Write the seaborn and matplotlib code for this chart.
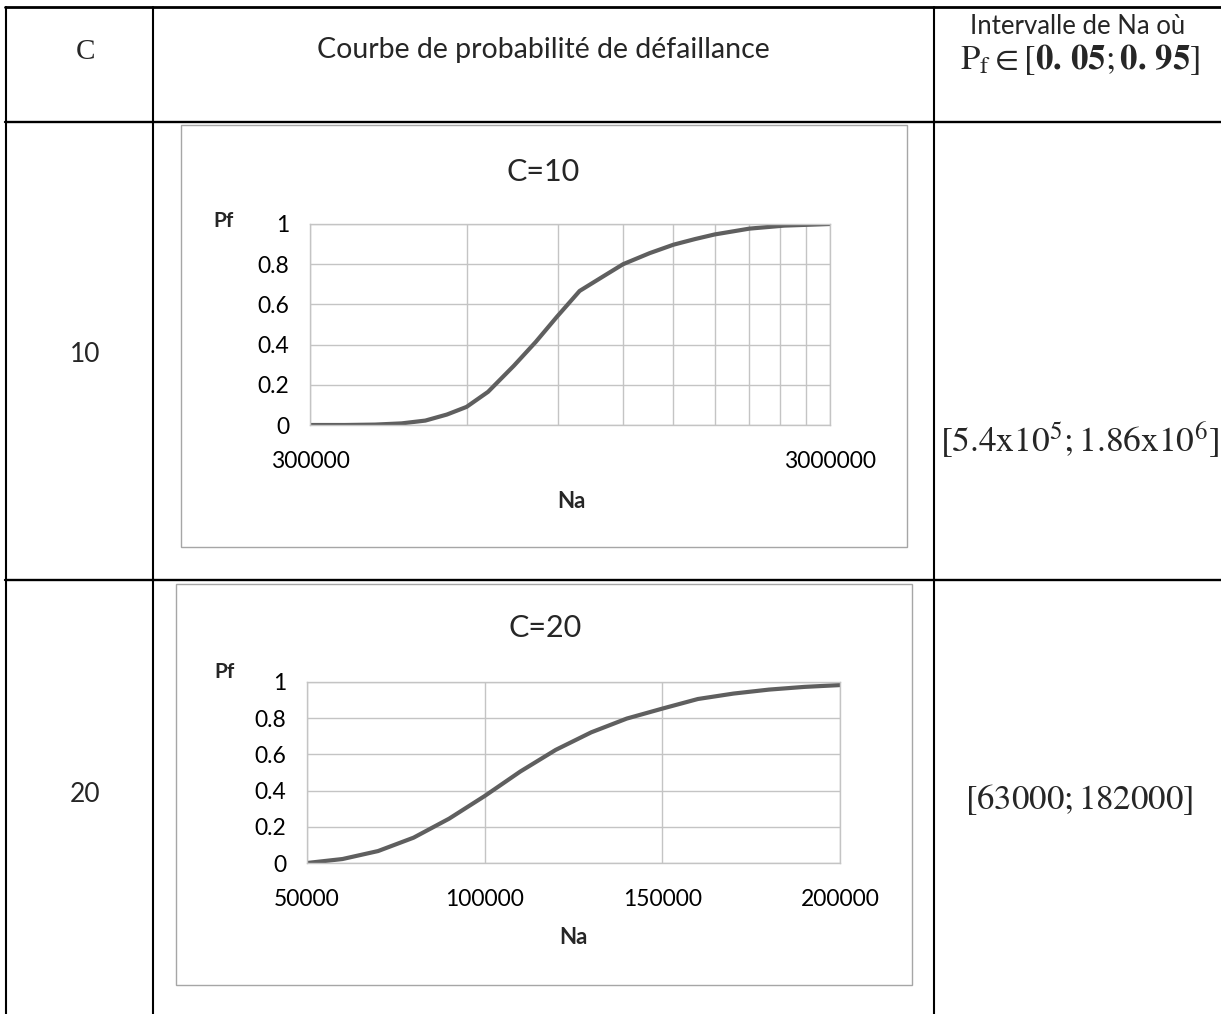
import matplotlib
matplotlib.use("Agg")
import matplotlib.pyplot as plt
import seaborn as sns
import pandas as pd
from matplotlib.lines import Line2D
from matplotlib.patches import Rectangle
from matplotlib.ticker import FixedLocator, FixedFormatter, NullFormatter

# ---------------- data ----------------
c10_na = [300000, 350000, 400000, 450000, 500000, 550000, 600000, 660000, 740000,
          815000, 895000, 990000, 1100000, 1200000, 1350000, 1500000, 1650000,
          1800000, 2100000, 2450000, 3000000]
c10_pf = [0.0, 0.0, 0.002, 0.008, 0.022, 0.052, 0.09, 0.165, 0.295, 0.413, 0.538,
          0.667, 0.74, 0.80, 0.855, 0.897, 0.925, 0.948, 0.977, 0.992, 1.0]

c20_na = [50000, 60000, 70000, 80000, 90000, 100000, 110000, 120000, 130000,
          140000, 150000, 160000, 170000, 180000, 190000, 200000]
c20_pf = [0.0, 0.022, 0.066, 0.14, 0.245, 0.37, 0.505, 0.625, 0.722, 0.798, 0.853,
          0.906, 0.936, 0.958, 0.973, 0.983]

y_ticks = [0, 0.2, 0.4, 0.6, 0.8, 1.0]
y_labels = ["0", "0.2", "0.4", "0.6", "0.8", "1"]
c10_xticks = [300000, 3000000]
c10_xlabels = ["300000", "3000000"]
c10_minor = [600000, 900000, 1200000, 1500000, 1800000, 2100000, 2400000, 2700000]
c20_xticks = [50000, 100000, 150000, 200000]
c20_xlabels = ["50000", "100000", "150000", "200000"]

header = ["C", "Courbe de probabilité de défaillance", "Intervalle de Na où"]
header_math = r"$\mathrm{P_f} \in [\mathbf{0.\,05}; \mathbf{0.\,95}]$"
c_values = ["10", "20"]
titles = ["C=10", "C=20"]
intervals = [r"$[5.4\mathrm{x}10^5; 1.86\mathrm{x}10^6]$", r"$[63000; 182000]$"]

# ---------------- style ----------------
sns.set_style("white")
plt.rcParams['font.family'] = ['Lato', 'DejaVu Sans']
plt.rcParams['mathtext.fontset'] = 'stix'

W, H = 1221, 1014
fig = plt.figure(figsize=(W / 100, H / 100), dpi=100)
fig.patch.set_facecolor("white")

def fx(x):
    return x / W

def fy(y):
    return 1 - y / H

def hline(y, x0, x1, lw=1.7):
    fig.add_artist(Line2D([fx(x0), fx(x1)], [fy(y), fy(y)], color="black", lw=lw,
                          transform=fig.transFigure))

def vline(x, y0, y1, lw=1.5):
    fig.add_artist(Line2D([fx(x), fx(x)], [fy(y0), fy(y1)], color="black", lw=lw,
                          transform=fig.transFigure))

# table grid
hline(7, 5, 1221, lw=2.0)
hline(122, 5, 1221, lw=1.7)
hline(580, 5, 1221, lw=1.7)
vline(6, 7, 1014)
vline(153, 7, 1014)
vline(934, 7, 1014)

# header texts
fig.text(fx(85), fy(52), header[0], ha="center", va="center", fontsize=21,
         family=["Liberation Serif", "DejaVu Serif"])
fig.text(fx(543), fy(50), header[1], ha="center", va="center", fontsize=20.5)
fig.text(fx(1078), fy(26), header[2], ha="center", va="center", fontsize=18.5)
fig.text(fx(1080), fy(60), header_math, ha="center", va="center", fontsize=25)

# row labels and intervals
fig.text(fx(85), fy(355), c_values[0], ha="center", va="center", fontsize=19)
fig.text(fx(85), fy(795), c_values[1], ha="center", va="center", fontsize=19)
fig.text(fx(1079), fy(440), intervals[0], ha="center", va="center", fontsize=25.5)
fig.text(fx(1079), fy(800), intervals[1], ha="center", va="center", fontsize=25)

# chart frames
for (x0, y0, x1, y1) in [(181, 125, 907, 547), (176, 584, 912, 985)]:
    fig.add_artist(Rectangle((fx(x0), fy(y1)), fx(x1) - fx(x0), fy(y0) - fy(y1),
                             transform=fig.transFigure, fill=False,
                             edgecolor="#a6a6a6", lw=1.0))

line_color = "#5f5f5f"
grid_color = "#c4c4c4"

def make_axes(x0, y0, x1, y1):
    ax = fig.add_axes([fx(x0), fy(y1), fx(x1) - fx(x0), fy(y0) - fy(y1)])
    ax.set_facecolor("white")
    for s in ax.spines.values():
        s.set_color(grid_color)
        s.set_linewidth(1.0)
    return ax

# ---- chart C=10 ----
ax1 = make_axes(310, 224, 830, 425)
df1 = pd.DataFrame({"Na": c10_na, "Pf": c10_pf})
sns.lineplot(data=df1, x="Na", y="Pf", ax=ax1, color=line_color, lw=3.0)
ax1.set_xscale("log")
ax1.set_xlim(c10_xticks[0], c10_xticks[-1])
ax1.set_ylim(0, 1)
ax1.xaxis.set_major_locator(FixedLocator(c10_xticks))
ax1.xaxis.set_major_formatter(FixedFormatter(c10_xlabels))
ax1.xaxis.set_minor_locator(FixedLocator(c10_minor))
ax1.xaxis.set_minor_formatter(NullFormatter())
ax1.grid(True, which="both", axis="x", color=grid_color, lw=1.0)
ax1.grid(True, which="major", axis="y", color=grid_color, lw=1.0)

# ---- chart C=20 ----
ax2 = make_axes(307, 682, 840, 863)
df2 = pd.DataFrame({"Na": c20_na, "Pf": c20_pf})
sns.lineplot(data=df2, x="Na", y="Pf", ax=ax2, color=line_color, lw=3.0)
ax2.set_xlim(c20_xticks[0], c20_xticks[-1])
ax2.set_ylim(0, 1)
ax2.set_xticks(c20_xticks)
ax2.set_xticklabels(c20_xlabels)
ax2.grid(True, which="major", color=grid_color, lw=1.0)

for ax in (ax1, ax2):
    ax.set_yticks(y_ticks)
    ax.set_yticklabels(y_labels)
    ax.tick_params(axis="both", which="both", length=0, labelsize=16.5, colors="black")
    ax.tick_params(axis="x", pad=19)
    ax.tick_params(axis="y", pad=15)
    ax.set_xlabel("")
    ax.set_ylabel("")
    ax.set_axisbelow(True)

# titles and axis labels
fig.text(fx(543), fy(172), titles[0], ha="center", va="center", fontsize=22)
fig.text(fx(545), fy(628), titles[1], ha="center", va="center", fontsize=22)
fig.text(fx(223), fy(221), "Pf", ha="center", va="center", fontsize=15, weight="bold")
fig.text(fx(224), fy(672), "Pf", ha="center", va="center", fontsize=15, weight="bold")
fig.text(fx(571), fy(502), "Na", ha="center", va="center", fontsize=16, weight="bold")
fig.text(fx(573), fy(938), "Na", ha="center", va="center", fontsize=16, weight="bold")

fig.savefig("out.png", dpi=100, facecolor="white")
